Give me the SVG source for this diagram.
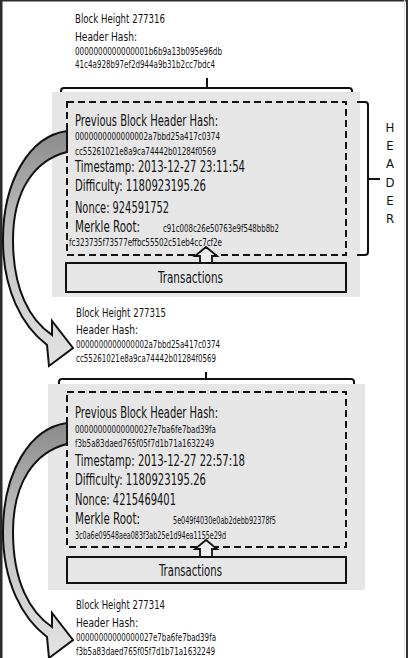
<svg xmlns="http://www.w3.org/2000/svg" width="408" height="658" viewBox="0 0 408 658">
<defs>
<style>
text{font-family:"Liberation Sans Narrow","DejaVu Sans Condensed","Liberation Sans",sans-serif;fill:#111}
.s{font-size:13px}
.m{font-size:15.5px}
.h{font-size:10px}
.gray{fill:#e6e6e6}
.dash{fill:none;stroke:#111;stroke-width:2;stroke-dasharray:7,4}
.box{fill:#e6e6e6;stroke:#111;stroke-width:2}
.br{fill:none;stroke:#111;stroke-width:2}
.arr{fill:url(#g);stroke:#111;stroke-width:2;stroke-linejoin:miter}
.up{fill:#eeeeee;stroke:#111;stroke-width:1.8}
</style>
<linearGradient id="g" x1="0" y1="0" x2="0" y2="1">
<stop offset="0" stop-color="#8a8a8a"/>
<stop offset="0.35" stop-color="#b8b8b8"/>
<stop offset="1" stop-color="#e4e4e4"/>
</linearGradient>
<path id="bigarrow" d="M67,131 C30,136 3,180 3,240 C3,290 22,326 47,345 L49,366 L73,348 L52,321 L52,335 C30,320 13,290 13,240 C13,190 35,160 67,152 Z"/>
</defs>
<rect x="0" y="0" width="408" height="658" fill="#fff"/>
<rect x="0" y="0" width="2.5" height="658" fill="#2b2b2b"/>
<rect x="0" y="0" width="408" height="1.5" fill="#2b2b2b"/>
<rect x="404" y="0" width="1" height="658" fill="#dddddd"/>
<rect x="406" y="0" width="2" height="658" fill="#333"/>

<g id="block277316">
<text class="s" x="75" y="23" textLength="90" lengthAdjust="spacingAndGlyphs">Block Height 277316</text>
<text class="s" x="75" y="41" textLength="62" lengthAdjust="spacingAndGlyphs">Header Hash:</text>
<text class="h" x="75" y="55" textLength="147" lengthAdjust="spacingAndGlyphs">0000000000000001b6b9a13b095e96db</text>
<text class="h" x="75" y="68" textLength="140" lengthAdjust="spacingAndGlyphs">41c4a928b97ef2d944a9b31b2cc7bdc4</text>
<path class="br" d="M61,96 V91 Q61,88 64,88 H349 Q352,88 352,91 V96 M207,88 V78"/>
<rect class="gray" x="52" y="92" width="308" height="205"/>
<rect class="dash" x="67" y="102" width="279" height="153"/>
<text class="m" x="75" y="126" textLength="143" lengthAdjust="spacingAndGlyphs">Previous Block Header Hash:</text>
<text class="h" x="75" y="140" textLength="145" lengthAdjust="spacingAndGlyphs">0000000000000002a7bbd25a417c0374</text>
<text class="h" x="75" y="155" textLength="141" lengthAdjust="spacingAndGlyphs">cc55261021e8a9ca74442b01284f0569</text>
<text class="m" x="75" y="172" textLength="170" lengthAdjust="spacingAndGlyphs">Timestamp: 2013-12-27 23:11:54</text>
<text class="m" x="75" y="191" textLength="131" lengthAdjust="spacingAndGlyphs">Difficulty: 1180923195.26</text>
<text class="m" x="75" y="213" textLength="94" lengthAdjust="spacingAndGlyphs">Nonce: 924591752</text>
<text class="m" x="75" y="232" textLength="65" lengthAdjust="spacingAndGlyphs">Merkle Root:</text>
<text class="h" x="163" y="232" textLength="116" lengthAdjust="spacingAndGlyphs">c91c008c26e50763e9f548bb8b2</text>
<text class="h" x="69" y="246" textLength="153" lengthAdjust="spacingAndGlyphs">fc323735f73577effbc55502c51eb4cc7cf2e</text>
<rect class="box" x="66" y="263" width="280" height="29"/>
<text class="m" x="158" y="283" textLength="65" lengthAdjust="spacingAndGlyphs">Transactions</text>
<path class="up" d="M206,247 L217,256 L212,256 L212,263 L200,263 L200,256 L195,256 Z"/>
<path class="br" d="M357,102 H365 Q368,102 368,105 V252 Q368,255 365,255 H357 M368,179 H380"/>
<g text-anchor="middle">
<text class="s" x="390" y="132">H</text>
<text class="s" x="390" y="150">E</text>
<text class="s" x="390" y="168">A</text>
<text class="s" x="390" y="187">D</text>
<text class="s" x="390" y="205">E</text>
<text class="s" x="390" y="223">R</text>
</g>
</g>

<g id="block277315">
<text class="s" x="76" y="317" textLength="90" lengthAdjust="spacingAndGlyphs">Block Height 277315</text>
<text class="s" x="76" y="334" textLength="62" lengthAdjust="spacingAndGlyphs">Header Hash:</text>
<text class="h" x="76" y="347.5" textLength="144" lengthAdjust="spacingAndGlyphs">0000000000000002a7bbd25a417c0374</text>
<text class="h" x="76" y="362" textLength="140" lengthAdjust="spacingAndGlyphs">cc55261021e8a9ca74442b01284f0569</text>
<path class="br" d="M59,388 V382 Q59,379 62,379 H351 Q354,379 354,382 V388 M206,379 V372"/>
<rect class="gray" x="48" y="384" width="317" height="206"/>
<rect class="dash" x="67" y="392" width="279" height="155"/>
<text class="m" x="75" y="418" textLength="143" lengthAdjust="spacingAndGlyphs">Previous Block Header Hash:</text>
<text class="h" x="75" y="433" textLength="141" lengthAdjust="spacingAndGlyphs">00000000000000027e7ba6fe7bad39fa</text>
<text class="h" x="75" y="447" textLength="139" lengthAdjust="spacingAndGlyphs">f3b5a83daed765f05f7d1b71a1632249</text>
<text class="m" x="75" y="466" textLength="170" lengthAdjust="spacingAndGlyphs">Timestamp: 2013-12-27 22:57:18</text>
<text class="m" x="75" y="485" textLength="131" lengthAdjust="spacingAndGlyphs">Difficulty: 1180923195.26</text>
<text class="m" x="75" y="505" textLength="101" lengthAdjust="spacingAndGlyphs">Nonce: 4215469401</text>
<text class="m" x="75" y="524" textLength="65" lengthAdjust="spacingAndGlyphs">Merkle Root:</text>
<text class="h" x="173" y="524" textLength="103" lengthAdjust="spacingAndGlyphs">5e049f4030e0ab2debb92378f5</text>
<text class="h" x="75" y="539" textLength="151" lengthAdjust="spacingAndGlyphs">3c0a6e09548aea083f3ab25e1d94ea1155e29d</text>
<rect class="box" x="67" y="557" width="279" height="26"/>
<text class="m" x="159" y="576" textLength="63" lengthAdjust="spacingAndGlyphs">Transactions</text>
<path class="up" d="M206,540 L217,549 L212,549 L212,557 L200,557 L200,549 L195,549 Z"/>
</g>

<g id="block277314">
<text class="s" x="76" y="609" textLength="89" lengthAdjust="spacingAndGlyphs">Block Height 277314</text>
<text class="s" x="76" y="627" textLength="62" lengthAdjust="spacingAndGlyphs">Header Hash:</text>
<text class="h" x="76" y="641" textLength="140" lengthAdjust="spacingAndGlyphs">00000000000000027e7ba6fe7bad39fa</text>
<text class="h" x="76" y="655" textLength="139" lengthAdjust="spacingAndGlyphs">f3b5a83daed765f05f7d1b71a1632249</text>
</g>

<g id="connectors">
<use href="#bigarrow" class="arr"/>
<use href="#bigarrow" class="arr" transform="translate(0,292)"/>
</g>
</svg>
